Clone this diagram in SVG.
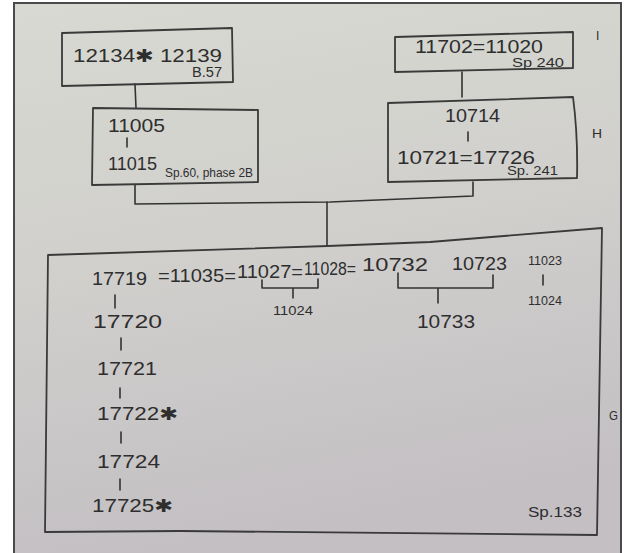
<svg xmlns="http://www.w3.org/2000/svg" width="626" height="553" viewBox="0 0 626 553">
<defs>
<linearGradient id="paper" x1="0" y1="0" x2="0.2" y2="1">
<stop offset="0" stop-color="#d8d9d2"/>
<stop offset="0.5" stop-color="#d0cfcc"/>
<stop offset="1" stop-color="#c3bfc3"/>
</linearGradient>
<style>
.box{fill:none;stroke:#3a3a3a;stroke-width:1.8;stroke-linejoin:round;stroke-linecap:round}
.ln{fill:none;stroke:#333;stroke-width:1.6;stroke-linecap:round;stroke-linejoin:round}
.t{font-family:"Liberation Sans","DejaVu Sans",sans-serif;fill:#2e2e2e;font-size:18px}
.s{font-family:"Liberation Sans","DejaVu Sans",sans-serif;fill:#2e2e2e;font-size:12px}
.m{font-family:"Liberation Sans","DejaVu Sans",sans-serif;fill:#2e2e2e;font-size:14px}
</style>
</defs>
<rect width="626" height="553" fill="#ffffff"/>
<rect x="14" y="3" width="607" height="560" fill="url(#paper)" stroke="#4a4a4a" stroke-width="2"/>

<g id="connectors">
<path class="ln" d="M135,84 L136,108"/>
<path class="ln" d="M135,185 L135,204 L330,202 L473,196 L473,182"/>
<path class="ln" d="M462,72 L462,97"/>
<path class="ln" d="M327,202 L327,246"/>
</g>

<g id="node-12134">
<path class="box" d="M62,33 L232,28 L233,82 L62,86 Z"/>
<text class="t" x="73" y="62" textLength="149" lengthAdjust="spacingAndGlyphs">12134✱ 12139</text>
<text class="m" x="192" y="77" textLength="30" lengthAdjust="spacingAndGlyphs">B.57</text>
</g>

<g id="node-11005">
<path class="box" d="M93,108 L258,110 L258,182 L92,185 Z"/>
<text class="t" x="108" y="132" textLength="57" lengthAdjust="spacingAndGlyphs">11005</text>
<path class="ln" d="M127,138 L127,147"/>
<text class="t" x="108" y="170" textLength="49" lengthAdjust="spacingAndGlyphs">11015</text>
<text class="s" x="165" y="177" textLength="88" lengthAdjust="spacingAndGlyphs">Sp.60, phase 2B</text>
</g>

<g id="node-11702">
<path class="box" d="M395,37 L573,32 L573,68 L395,72 Z"/>
<text class="t" x="415" y="53" textLength="128" lengthAdjust="spacingAndGlyphs">11702=11020</text>
<text class="s" x="512" y="67" textLength="52" lengthAdjust="spacingAndGlyphs">Sp 240</text>
<text class="s" x="596" y="40">I</text>
</g>

<g id="node-10714">
<path class="box" d="M388,103 L573,97 Q578,135 577,178 L388,182 Z"/>
<text class="t" x="445" y="122" textLength="55" lengthAdjust="spacingAndGlyphs">10714</text>
<path class="ln" d="M468,132 L468,141"/>
<text class="t" x="397" y="164" textLength="138" lengthAdjust="spacingAndGlyphs">10721=17726</text>
<text class="s" x="507" y="175" textLength="51" lengthAdjust="spacingAndGlyphs">Sp. 241</text>
<text class="s" x="592" y="138" textLength="10" lengthAdjust="spacingAndGlyphs">H</text>
</g>

<g id="node-133">
<path class="box" d="M48,255 L328,246 L430,242 L602,228 L597,535 L180,531 L45,532 Z"/>
<text class="t" x="92" y="285" textLength="55" lengthAdjust="spacingAndGlyphs">17719</text>
<text class="t" x="158" y="282" textLength="78" lengthAdjust="spacingAndGlyphs">=11035=</text>
<text class="t" x="237" y="278" textLength="66" lengthAdjust="spacingAndGlyphs">11027=</text>
<text class="t" x="304" y="275" textLength="52" lengthAdjust="spacingAndGlyphs">11028=</text>
<text class="t" x="362" y="271" textLength="66" lengthAdjust="spacingAndGlyphs">10732</text>
<text class="t" x="452" y="270" textLength="55" lengthAdjust="spacingAndGlyphs">10723</text>
<path class="ln" d="M262,280 L262,288 L318,288 L318,279 M293,288 L293,298"/>
<text class="s" x="273" y="315" textLength="40" lengthAdjust="spacingAndGlyphs">11024</text>
<path class="ln" d="M398,273 L398,288 L493,288 L493,275 M438,288 L438,303"/>
<text class="t" x="417" y="328" textLength="58" lengthAdjust="spacingAndGlyphs">10733</text>
<text class="s" x="528" y="265" textLength="34" lengthAdjust="spacingAndGlyphs">11023</text>
<path class="ln" d="M543,275 L543,285"/>
<text class="s" x="528" y="305" textLength="34" lengthAdjust="spacingAndGlyphs">11024</text>
<path class="ln" d="M115,295 L115,308"/>
<text class="t" x="93" y="328" textLength="69" lengthAdjust="spacingAndGlyphs">17720</text>
<path class="ln" d="M121,338 L121,350"/>
<text class="t" x="97" y="375" textLength="60" lengthAdjust="spacingAndGlyphs">17721</text>
<path class="ln" d="M120,388 L120,398"/>
<text class="t" x="97" y="420" textLength="81" lengthAdjust="spacingAndGlyphs">17722✱</text>
<path class="ln" d="M121,432 L121,443"/>
<text class="t" x="97" y="468" textLength="63" lengthAdjust="spacingAndGlyphs">17724</text>
<path class="ln" d="M120,479 L120,490"/>
<text class="t" x="92" y="512" textLength="81" lengthAdjust="spacingAndGlyphs">17725✱</text>
<text class="m" x="528" y="517" textLength="54" lengthAdjust="spacingAndGlyphs">Sp.133</text>
<text class="s" x="609" y="420" textLength="9" lengthAdjust="spacingAndGlyphs">G</text>
</g>
</svg>
